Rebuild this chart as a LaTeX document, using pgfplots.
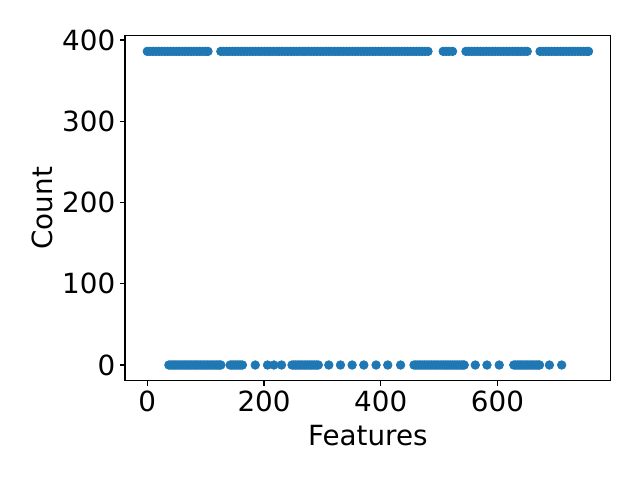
\documentclass[border=0pt]{standalone}
\usepackage{fontspec}
\setmainfont{DejaVu Sans}
\usepackage{pgfplots}
\pgfplotsset{compat=1.18}
\definecolor{mplblue}{HTML}{1F77B4}
\begin{document}
\begin{tikzpicture}
\begin{axis}[name=ax, scale only axis, width=349.7pt, height=248.4pt,
  xmin=-38.2, xmax=794, ymin=-19.3, ymax=405.3,
  xtick={0,200,400,600}, ytick={0,100,200,300,400},
  tick align=outside, major tick length=3.5pt,
  tick style={black, line width=0.8pt},
  axis line style={line width=0.8pt},
  xtick pos=bottom, ytick pos=left,
  ticklabel style={font=\fontsize{20}{24}\selectfont},
  label style={font=\fontsize{20}{24}\selectfont},
  xlabel={Features}, ylabel={Count},
  xlabel style={yshift=-3pt},
  /pgf/number format/assume math mode=true,
  scaled ticks=false, clip=false,
]
\addplot[only marks, mark=*, mark size=3.1pt, mark options={fill=mplblue, draw=mplblue, line width=0.5pt}] coordinates {
(0,386) (5,386) (10,386) (15,386) (20,386) (25,386) (30,386) (35,386) (40,386) (45,386) (50,386) (55,386) (60,386) (65,386) (70,386) (75,386) (80,386) (85,386) (90,386) (95,386) (100,386) (104,386)
(126,386) (131,386) (136,386) (141,386) (146,386) (151,386) (156,386) (161,386) (166,386) (171,386) (176,386) (181,386) (186,386) (191,386) (196,386) (201,386) (206,386) (211,386) (216,386) (221,386) (226,386) (231,386) (236,386) (241,386) (246,386) (251,386) (256,386) (261,386) (266,386) (271,386) (276,386) (281,386) (286,386) (291,386) (296,386) (301,386) (306,386) (311,386) (316,386) (321,386) (326,386) (331,386) (336,386) (341,386) (346,386) (351,386) (356,386) (361,386) (366,386) (371,386) (376,386) (381,386) (386,386) (391,386) (396,386) (401,386) (406,386) (411,386) (416,386) (421,386) (426,386) (431,386) (436,386) (441,386) (446,386) (451,386) (456,386) (461,386) (466,386) (471,386) (476,386) (481,386)
(507,386) (512,386) (517,386) (523,386)
(546,386) (551,386) (556,386) (561,386) (566,386) (571,386) (576,386) (581,386) (586,386) (591,386) (596,386) (601,386) (606,386) (611,386) (616,386) (621,386) (626,386) (631,386) (636,386) (641,386) (646,386) (651,386)
(673,386) (678,386) (683,386) (688,386) (693,386) (698,386) (703,386) (708,386) (713,386) (718,386) (723,386) (728,386) (733,386) (738,386) (743,386) (748,386) (753,386) (756,386)
(37,0) (40,0) (43,0) (46,0) (49,0) (52,0) (55,0) (58,0) (61,0) (64,0) (67,0) (70,0) (73,0) (76,0) (79,0) (82,0) (85,0) (88,0) (91,0) (94,0) (97,0) (100,0) (103,0) (106,0) (109,0) (112,0) (115,0) (118,0) (121,0) (124,0) (126,0)
(142,0) (145,0) (148,0) (151,0) (154,0) (157,0) (160,0) (163,0)
(185,0) (206,0) (217,0) (230,0)
(248,0) (251,0) (254,0) (257,0) (260,0) (263,0) (266,0) (269,0) (272,0) (275,0) (278,0) (281,0) (284,0) (287,0) (290,0) (293,0)
(311,0) (331,0) (351,0) (371,0) (392,0) (412,0) (434,0)
(457,0) (460,0) (463,0) (466,0) (469,0) (472,0) (475,0) (478,0) (481,0) (484,0) (487,0) (490,0) (493,0) (496,0) (499,0) (502,0) (505,0) (508,0) (511,0) (514,0) (517,0) (520,0) (523,0) (526,0) (529,0) (532,0) (535,0) (538,0) (541,0) (543,0)
(562,0) (582,0) (603,0)
(628,0) (631,0) (634,0) (637,0) (640,0) (643,0) (646,0) (649,0) (652,0) (655,0) (658,0) (661,0) (664,0) (667,0) (670,0) (672,0)
(689,0) (710,0)
};
\end{axis}
\path ([xshift=-90pt,yshift=-71.5pt]ax.south west) rectangle ([xshift=21.1pt,yshift=25.7pt]ax.north east);
\end{tikzpicture}
\end{document}
